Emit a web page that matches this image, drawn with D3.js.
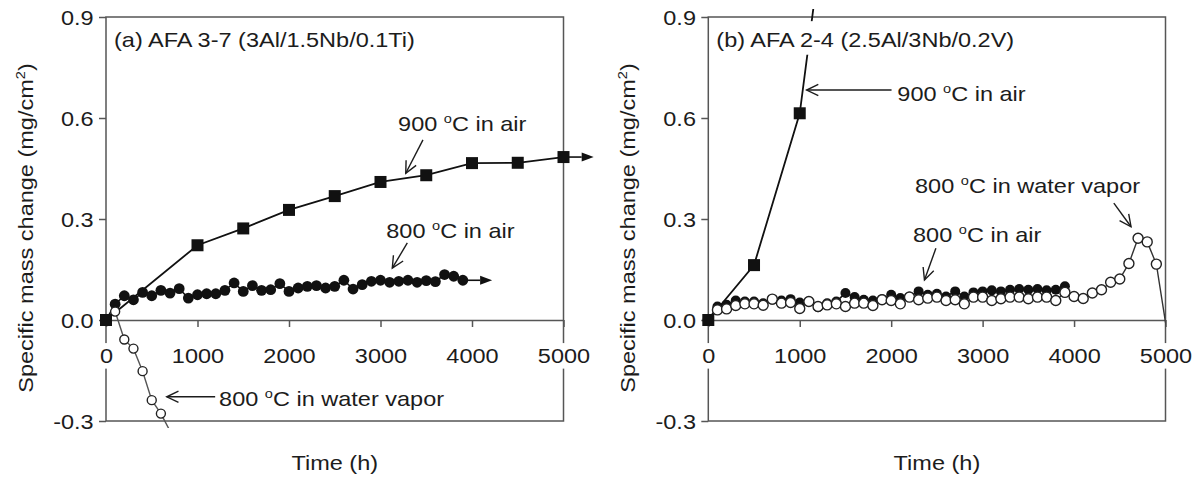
<!DOCTYPE html>
<html>
<head>
<meta charset="utf-8">
<script src="https://cdn.jsdelivr.net/npm/d3@7/dist/d3.min.js"></script>
<style>
  html, body { margin: 0; padding: 0; background: #fff; }
  svg { display: block; }
  text { font-family: Arial, "Liberation Sans", Helvetica, sans-serif; }
</style>
</head>
<body>
<svg id="fig" width="1198" height="477"></svg>
<script>
// ---------------- data ----------------
const xTicks = [0, 1000, 2000, 3000, 4000, 5000];
const yTicks = [-0.3, 0, 0.3, 0.6, 0.9];
const xDomain = [0, 5000];
const yDomain = [-0.3, 0.9];

// (a) AFA 3-7 (3Al/1.5Nb/0.1Ti)
const hoursA900 = [0, 1000, 1500, 2000, 2500, 3000, 3500, 4000, 4500, 5000];
const massA900  = [0, 0.222, 0.272, 0.327, 0.368, 0.410, 0.430, 0.466, 0.467, 0.484];

const hoursA800Air = [0, 100, 200, 300, 400, 500, 600, 700, 800, 900,
  1000, 1100, 1200, 1300, 1400, 1500, 1600, 1700, 1800, 1900,
  2000, 2100, 2200, 2300, 2400, 2500, 2600, 2700, 2800, 2900,
  3000, 3100, 3200, 3300, 3400, 3500, 3600, 3700, 3800, 3900];
const massA800Air = [0, 0.047, 0.072, 0.060, 0.082, 0.072, 0.088, 0.080, 0.093, 0.065,
  0.075, 0.078, 0.078, 0.088, 0.110, 0.085, 0.102, 0.088, 0.090, 0.108,
  0.085, 0.095, 0.100, 0.102, 0.095, 0.100, 0.118, 0.092, 0.105, 0.115,
  0.118, 0.112, 0.115, 0.118, 0.112, 0.117, 0.114, 0.135, 0.130, 0.118];

const hoursA800Vapor = [0, 100, 200, 300, 400, 500, 600, 700];
const massA800Vapor  = [0, 0.025, -0.058, -0.085, -0.152, -0.238, -0.278, -0.330];

// tests still running: arrows carry the two air curves on to these times
const continueHoursA = { air900: 5330, air800: 4220 };

// (b) AFA 2-4 (2.5Al/3Nb/0.2V)
const hoursB900 = [0, 500, 1000, 1500];
const massB900  = [0, 0.163, 0.614, 1.660];

const hoursB800Air = [0, 100, 200, 300, 400, 500, 600, 700, 800, 900,
  1000, 1100, 1200, 1300, 1400, 1500, 1600, 1700, 1800, 1900,
  2000, 2100, 2200, 2300, 2400, 2500, 2600, 2700, 2800, 2900,
  3000, 3100, 3200, 3300, 3400, 3500, 3600, 3700, 3800, 3900];
const massB800Air = [0, 0.040, 0.045, 0.058, 0.055, 0.055, 0.050, 0.060, 0.058, 0.062,
  0.052, 0.055, 0.038, 0.050, 0.055, 0.080, 0.068, 0.060, 0.058, 0.062,
  0.075, 0.065, 0.070, 0.085, 0.075, 0.078, 0.070, 0.085, 0.070, 0.082,
  0.085, 0.088, 0.085, 0.090, 0.092, 0.090, 0.092, 0.088, 0.090, 0.100];

const hoursB800Vapor = [0, 100, 200, 300, 400, 500, 600, 700, 800, 900,
  1000, 1100, 1200, 1300, 1400, 1500, 1600, 1700, 1800, 1900,
  2000, 2100, 2200, 2300, 2400, 2500, 2600, 2700, 2800, 2900,
  3000, 3100, 3200, 3300, 3400, 3500, 3600, 3700, 3800, 3900,
  4000, 4100, 4200, 4300, 4400, 4500, 4600, 4700, 4800, 4900, 5100];
const massB800Vapor = [0, 0.030, 0.033, 0.043, 0.048, 0.048, 0.044, 0.062, 0.050, 0.052,
  0.034, 0.055, 0.040, 0.045, 0.048, 0.040, 0.050, 0.050, 0.043, 0.060,
  0.058, 0.048, 0.068, 0.060, 0.065, 0.068, 0.058, 0.060, 0.048, 0.068,
  0.068, 0.058, 0.063, 0.068, 0.068, 0.063, 0.068, 0.068, 0.058, 0.082,
  0.070, 0.064, 0.080, 0.090, 0.112, 0.122, 0.168, 0.243, 0.232, 0.166, -0.180];

// annotation labels: text anchor and arrow (from -> to), in data units
const notesA = [
  { parts: ['900 ', ['o'], 'C in air'], at: [3192, 0.561], from: [3464, 0.535], to: [3276, 0.436] },
  { parts: ['800 ', ['o'], 'C in air'], at: [3063, 0.2435], from: [3293, 0.229], to: [3129, 0.154] },
  { parts: ['800 ', ['o'], 'C in water vapor'], at: [1236, -0.2554], from: [1193, -0.228], to: [664, -0.228] }
];
const notesB = [
  { parts: ['900 ', ['o'], 'C in air'], at: [2067, 0.651], from: [2004, 0.683], to: [1075, 0.683] },
  { parts: ['800 ', ['o'], 'C in water vapor'], at: [2261, 0.377], from: [4435, 0.347], to: [4623, 0.277] },
  { parts: ['800 ', ['o'], 'C in air'], at: [2239, 0.232], from: [2489, 0.213], to: [2364, 0.119] }
];

const titleA = '(a) AFA 3-7 (3Al/1.5Nb/0.1Ti)';
const titleB = '(b) AFA 2-4 (2.5Al/3Nb/0.2V)';
const yTitle = ['Specific mass change (mg/cm', ['2'], ')'];
const xTitle = ['Time (h)'];

// ---------------- drawing ----------------
const svg = d3.select('#fig');
const FS = 21, SX = 1.12, INK = '#1c1c1c', FRAME = '#565656', LINE = '#111';
const plotTop = 17, plotBottom = 421;

function zip(xs, ys) { return xs.map((t, i) => ({ t, v: ys[i] })); }
const inRange = d => d.t >= xDomain[0] && d.t <= xDomain[1] && d.v >= yDomain[0] && d.v <= yDomain[1];

// text with optional superscript parts, stretched slightly in width
function addLabel(parent, x, y, parts, opt = {}) {
  const rot = opt.rotate ? ` rotate(${opt.rotate})` : '';
  const g = parent.append('g').attr('transform', `translate(${x},${y})${rot} scale(${SX},1)`);
  const t = g.append('text')
    .attr('font-size', FS).attr('fill', INK)
    .attr('text-anchor', opt.anchor || 'start');
  let shift = 0;
  parts.forEach(p => {
    const sup = Array.isArray(p);
    const ts = t.append('tspan').text(sup ? p[0] : p);
    const target = sup ? -8 : 0;
    if (target !== shift) { ts.attr('dy', target - shift); shift = target; }
    if (sup) ts.attr('font-size', 13);
  });
  if (opt.box) {
    const b = t.node().getBBox();
    const [pt, pb, ph] = opt.box;
    g.insert('rect', 'text')
      .attr('x', b.x - ph).attr('y', b.y - pt)
      .attr('width', b.width + 2 * ph).attr('height', b.height + pt + pb)
      .attr('fill', '#fff');
  }
  return g;
}

function openArrow(g, x1, y1, x2, y2) {
  g.append('line').attr('x1', x1).attr('y1', y1).attr('x2', x2).attr('y2', y2)
    .attr('stroke', INK).attr('stroke-width', 1.4);
  const ang = Math.atan2(y2 - y1, x2 - x1), L = 13, a = 0.45;
  g.append('path')
    .attr('d', `M${x2 - L * Math.cos(ang - a)},${y2 - L * Math.sin(ang - a)}L${x2},${y2}L${x2 - L * Math.cos(ang + a)},${y2 - L * Math.sin(ang + a)}`)
    .attr('fill', 'none').attr('stroke', INK).attr('stroke-width', 1.4);
}

function solidArrow(g, x1, y1, x2, y2) {
  const L = 12, w = 4.5;
  const ang = Math.atan2(y2 - y1, x2 - x1);
  const bx = x2 - L * Math.cos(ang), by = y2 - L * Math.sin(ang);
  g.append('line').attr('x1', x1).attr('y1', y1).attr('x2', bx).attr('y2', by)
    .attr('stroke', LINE).attr('stroke-width', 1.6);
  const nx = -Math.sin(ang) * w, ny = Math.cos(ang) * w;
  g.append('path')
    .attr('d', `M${x2},${y2}L${bx + nx},${by + ny}L${bx - nx},${by - ny}Z`)
    .attr('fill', LINE);
}

function drawPanel(cfg) {
  const x = d3.scaleLinear().domain(xDomain).range([cfg.left, cfg.right]);
  const y = d3.scaleLinear().domain(yDomain).range([plotBottom, plotTop]);
  const g = svg.append('g');

  // frame
  g.append('rect')
    .attr('x', cfg.left).attr('y', plotTop)
    .attr('width', cfg.right - cfg.left).attr('height', plotBottom - plotTop)
    .attr('fill', 'none').attr('stroke', FRAME).attr('stroke-width', 1.5);

  // y axis (ticks outward)
  const ya = g.append('g').attr('transform', `translate(${cfg.left},0)`)
    .call(d3.axisLeft(y).tickValues(yTicks).tickSize(7).tickPadding(4)
      .tickFormat(d => d.toFixed(1)));
  ya.select('.domain').remove();
  ya.selectAll('.tick line').attr('stroke', FRAME).attr('stroke-width', 1.5);
  ya.selectAll('.tick text')
    .attr('font-size', FS).attr('font-family', null).attr('fill', INK)
    .attr('dy', '0.36em').attr('transform', `scale(${SX},1)`);

  // x axis along zero, ticks pointing down
  const xa = g.append('g').attr('transform', `translate(0,${y(0)})`)
    .call(d3.axisBottom(x).tickValues(xTicks).tickSize(7).tickSizeOuter(0).tickPadding(21)
      .tickFormat(d3.format('d')));
  xa.select('.domain').attr('stroke', FRAME).attr('stroke-width', 1.5);
  xa.selectAll('.tick line').attr('stroke', FRAME).attr('stroke-width', 1.5);
  xa.selectAll('.tick text')
    .attr('font-size', FS).attr('font-family', null).attr('fill', INK)
    .attr('transform', `scale(${SX},1)`);
  // tick labels sit on an opaque box that breaks the frame lines
  xa.selectAll('.tick').each(function () {
    const tk = d3.select(this);
    const tx = tk.select('text');
    const b = tx.node().getBBox();
    tk.insert('rect', 'text')
      .attr('x', (b.x - 2) * SX).attr('y', b.y - 1)
      .attr('width', (b.width + 4) * SX).attr('height', b.height + 2)
      .attr('fill', '#fff');
  });

  // axis titles
  addLabel(g, cfg.left - 73, 228, yTitle, { anchor: 'middle', rotate: -90 });
  addLabel(g, (cfg.left + cfg.right) / 2, 470, xTitle, { anchor: 'middle' });

  // data lines, clipped a little beyond the frame
  const clipId = 'clip' + cfg.key;
  svg.append('clipPath').attr('id', clipId).append('rect')
    .attr('x', cfg.left - 8).attr('y', plotTop - 8)
    .attr('width', cfg.right - cfg.left + 8).attr('height', plotBottom - plotTop + 15);
  const lines = g.append('g').attr('clip-path', `url(#${clipId})`);
  const line = d3.line().x(d => x(d.t)).y(d => y(d.v));

  const air800 = zip(cfg.h800Air, cfg.m800Air);
  const air900 = zip(cfg.h900, cfg.m900);
  const vapor = zip(cfg.hVapor, cfg.mVapor);

  lines.append('path').datum(air800).attr('d', line)
    .attr('fill', 'none').attr('stroke', LINE).attr('stroke-width', 1.6);
  lines.append('path').datum(air900).attr('d', line)
    .attr('fill', 'none').attr('stroke', LINE).attr('stroke-width', 1.8);
  lines.append('path').datum(vapor).attr('d', line)
    .attr('fill', 'none').attr('stroke', cfg.vaporStroke).attr('stroke-width', 1.4);

  // continuation arrows
  if (cfg.cont) {
    const l9 = air900[air900.length - 1], l8 = air800[air800.length - 1];
    solidArrow(g, x(l9.t), y(l9.v), x(cfg.cont.air900), y(l9.v));
    solidArrow(g, x(l8.t), y(l8.v), x(cfg.cont.air800), y(l8.v));
  }

  // markers
  g.append('g').selectAll('circle').data(air800.filter(inRange)).join('circle')
    .attr('cx', d => x(d.t)).attr('cy', d => y(d.v)).attr('r', cfg.rFilled)
    .attr('fill', LINE);
  g.append('g').selectAll('circle').data(vapor.filter(inRange)).join('circle')
    .attr('cx', d => x(d.t)).attr('cy', d => y(d.v)).attr('r', cfg.rOpen)
    .attr('fill', '#fff').attr('stroke', '#222').attr('stroke-width', 1.4);
  const sq = 12;
  g.append('g').selectAll('rect').data(air900.filter(inRange)).join('rect')
    .attr('x', d => x(d.t) - sq / 2).attr('y', d => y(d.v) - sq / 2)
    .attr('width', sq).attr('height', sq).attr('fill', LINE);

  // panel title on an opaque box
  addLabel(g, cfg.left + 8, 47, [cfg.title], { box: [7, 3, 2] });

  // annotations
  cfg.notes.forEach(n => {
    addLabel(g, x(n.at[0]), y(n.at[1]), n.parts);
    openArrow(g, x(n.from[0]), y(n.from[1]), x(n.to[0]), y(n.to[1]));
  });
}

drawPanel({
  key: 'A', left: 106, right: 563.5, title: titleA,
  h900: hoursA900, m900: massA900,
  h800Air: hoursA800Air, m800Air: massA800Air,
  hVapor: hoursA800Vapor, mVapor: massA800Vapor,
  vaporStroke: '#555', rFilled: 5.4, rOpen: 4.5,
  cont: continueHoursA, notes: notesA
});
drawPanel({
  key: 'B', left: 708.3, right: 1165.5, title: titleB,
  h900: hoursB900, m900: massB900,
  h800Air: hoursB800Air, m800Air: massB800Air,
  hVapor: hoursB800Vapor, mVapor: massB800Vapor,
  vaporStroke: '#333', rFilled: 5, rOpen: 5,
  cont: null, notes: notesB
});
</script>
</body>
</html>
